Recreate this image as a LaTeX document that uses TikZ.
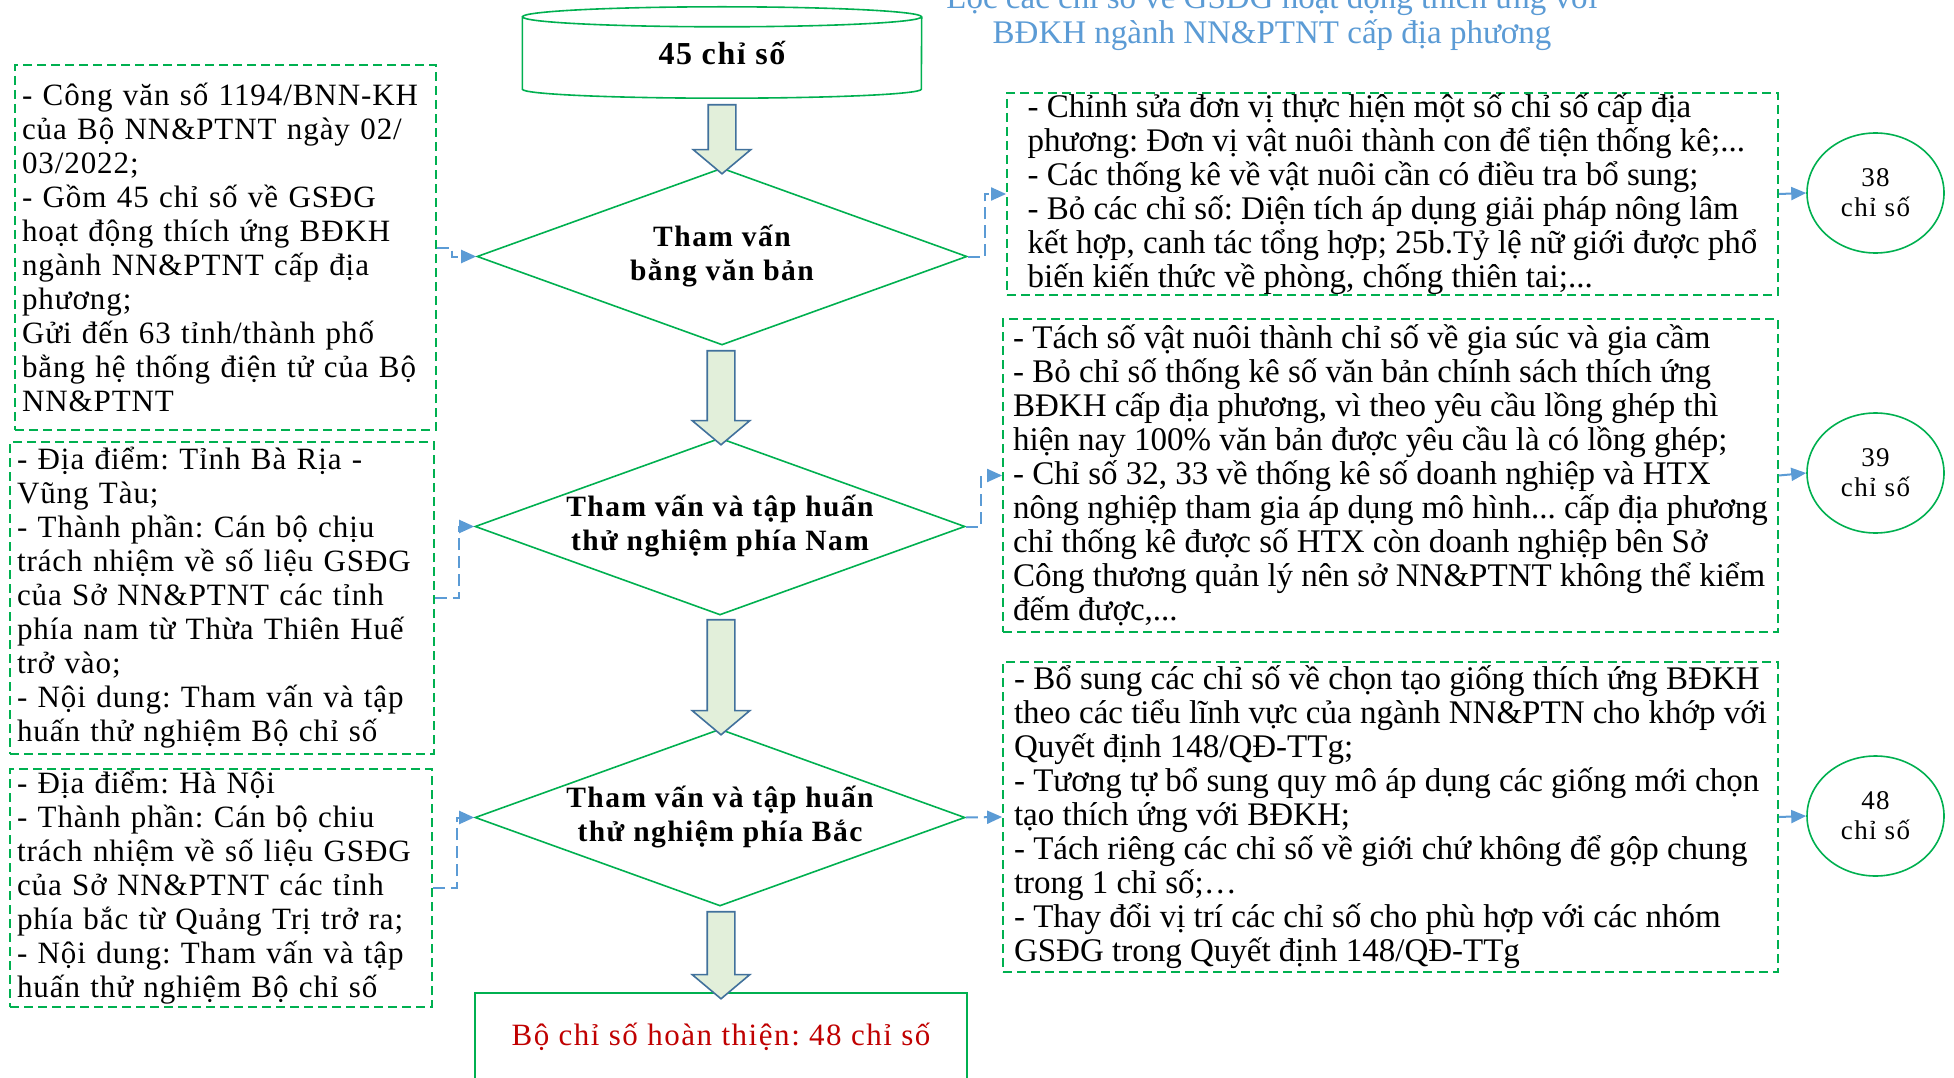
\documentclass[tikz,border=0pt]{standalone}
\usepackage{fontspec}
\setmainfont{Liberation Serif}
\newfontfamily\widefont[LetterSpace=3]{Liberation Serif}
\newfontfamily\headfont[LetterSpace=5]{Liberation Serif}
\newfontfamily\spacedfont[LetterSpace=5]{Liberation Serif}
\frenchspacing
\usetikzlibrary{shapes.geometric,shapes.arrows,arrows.meta}
\definecolor{boxgreen}{RGB}{0,176,80}
\definecolor{linkblue}{RGB}{91,155,213}
\definecolor{arrowfill}{RGB}{226,239,218}
\definecolor{arrowline}{RGB}{65,113,156}
\definecolor{donered}{RGB}{192,0,0}
\begin{document}
\begin{tikzpicture}[x=1pt,y=-1pt,
  leftbox/.style={draw=boxgreen, line width=1.8pt, dash pattern=on 9pt off 5pt, align=left, inner xsep=7pt, inner ysep=0pt, font=\widefont\fontsize{31}{34}\selectfont\frenchspacing},
  rightbox/.style={draw=boxgreen, line width=1.8pt, dash pattern=on 9pt off 5pt, align=left, inner xsep=8pt, inner ysep=0pt, font=\fontsize{33}{34}\selectfont\frenchspacing},
  decision/.style={diamond, draw=boxgreen, line width=1.6pt, minimum width=490pt, minimum height=177pt, inner sep=0pt},
  decisiontext/.style={align=center, font=\headfont\bfseries\fontsize{29.5}{34}\selectfont},
  result/.style={ellipse, draw=boxgreen, line width=1.6pt, minimum width=137pt, minimum height=120pt, inner sep=0pt, align=center, font=\spacedfont\fontsize{27}{30}\selectfont},
  flowarrow/.style={single arrow, draw=arrowline, fill=arrowfill, line width=1.6pt, inner sep=13pt, single arrow head extend=15pt, single arrow tip angle=100, shape border rotate=270},
  link/.style={linkblue, line width=2pt, dash pattern=on 12pt off 6pt, -{Triangle[length=15pt,width=13pt]}},
  solidlink/.style={linkblue, line width=2pt, -{Triangle[length=15pt,width=13pt]}}]
\useasboundingbox (0,0) rectangle (1954,1078);
\fill[white] (0,0) rectangle (1954,1078);

\node[align=center, text=linkblue, font=\fontsize{33}{35}\selectfont] (title) at (1272,17.5) {Lọc các chỉ số về GSĐG hoạt động thích ứng với\\BĐKH ngành NN\&PTNT cấp địa phương};

\node[minimum width=399pt, minimum height=72pt, inner sep=0pt, font=\headfont\bfseries\fontsize{32}{34}\selectfont] (n0) at (722,53) {45 chỉ số};
\draw[boxgreen, line width=1.6pt] (n0.north west) -- (n0.south west) arc[start angle=180, end angle=360, x radius=199.5pt, y radius=9pt] -- (n0.north east)
  (n0.north) ellipse[x radius=199.5pt, y radius=10pt];

\node[decision] (d1) at (722,256.5) {};
\node[decisiontext] (t1) at (d1) {Tham vấn\\bằng văn bản};
\node[decision] (d2) at (720,526.5) {};
\node[decisiontext] (t2) at (d2) {Tham vấn và tập huấn\\thử nghiệm phía Nam};
\node[decision] (d3) at (720,817.5) {};
\node[decisiontext] (t3) at (d3) {Tham vấn và tập huấn\\thử nghiệm phía Bắc};
\node[draw=boxgreen, line width=1.6pt, minimum width=492pt, minimum height=88pt, text=donered, font=\spacedfont\fontsize{31}{34}\selectfont] (final) at (721,1037) {Bộ chỉ số hoàn thiện: 48 chỉ số};

\node[flowarrow, minimum height=69pt] (a1) at (722,133.5) {};
\node[flowarrow, minimum height=94pt] (a2) at (721,392) {};
\node[flowarrow, minimum height=115pt] (a3) at (721,671.5) {};
\node[flowarrow, minimum height=87pt] (a4) at (721,949.5) {};

\node[leftbox, text width=407pt, minimum height=365pt] (l1) at (225.5,247.5) {- Công văn số 1194/BNN-KH\\
của Bộ NN\&PTNT ngày 02/\\
03/2022;\\
- Gồm 45 chỉ số về GSĐG\\
hoạt động thích ứng BĐKH\\
ngành NN\&PTNT cấp địa\\
phương;\\
Gửi đến 63 tỉnh/thành phố\\
bằng hệ thống điện tử của Bộ\\
NN\&PTNT};
\node[leftbox, text width=410pt, minimum height=312pt] (l2) at (222,598) {- Địa điểm: Tỉnh Bà Rịa -\\
Vũng Tàu;\\
- Thành phần: Cán bộ chịu\\
trách nhiệm về số liệu GSĐG\\
của Sở NN\&PTNT các tỉnh\\
phía nam từ Thừa Thiên Huế\\
trở vào;\\
- Nội dung: Tham vấn và tập\\
huấn thử nghiệm Bộ chỉ số};
\node[leftbox, text width=408pt, minimum height=238pt] (l3) at (221,888) {- Địa điểm: Hà Nội\\
- Thành phần: Cán bộ chiu\\
trách nhiệm về số liệu GSĐG\\
của Sở NN\&PTNT các tỉnh\\
phía bắc từ Quảng Trị trở ra;\\
- Nội dung: Tham vấn và tập\\
huấn thử nghiệm Bộ chỉ số};

\node[rightbox, minimum width=771pt, minimum height=202pt] (r1) at (1392.5,194) {- Chỉnh sửa đơn vị thực hiện một số chỉ số cấp địa\\
phương: Đơn vị vật nuôi thành con để tiện thống kê;...\\
- Các thống kê về vật nuôi cần có điều tra bổ sung;\\
- Bỏ các chỉ số: Diện tích áp dụng giải pháp nông lâm\\
kết hợp, canh tác tổng hợp; 25b.Tỷ lệ nữ giới được phổ\\
biến kiến thức về phòng, chống thiên tai;...};
\node[rightbox, minimum width=775pt, minimum height=313pt] (r2) at (1390.5,475.5) {- Tách số vật nuôi thành chỉ số về gia súc và gia cầm\\
- Bỏ chỉ số thống kê số văn bản chính sách thích ứng\\
BĐKH cấp địa phương, vì theo yêu cầu lồng ghép thì\\
hiện nay 100\% văn bản được yêu cầu là có lồng ghép;\\
- Chỉ số 32, 33 về thống kê số doanh nghiệp và HTX\\
nông nghiệp tham gia áp dụng mô hình... cấp địa phương\\
chỉ thống kê được số HTX còn doanh nghiệp bên Sở\\
Công thương quản lý nên sở NN\&PTNT không thể kiểm\\
đếm được,...};
\node[rightbox, minimum width=775pt, minimum height=310pt] (r3) at (1390.5,817) {- Bổ sung các chỉ số về chọn tạo giống thích ứng BĐKH\\
theo các tiểu lĩnh vực của ngành NN\&PTN cho khớp với\\
Quyết định 148/QĐ-TTg;\\
- Tương tự bổ sung quy mô áp dụng các giống mới chọn\\
tạo thích ứng với BĐKH;\\
- Tách riêng các chỉ số về giới chứ không để gộp chung\\
trong 1 chỉ số;…\\
- Thay đổi vị trí các chỉ số cho phù hợp với các nhóm\\
GSĐG trong Quyết định 148/QĐ-TTg};

\node[result] (c1) at (1875.5,193) {38\\chỉ số};
\node[result] (c2) at (1875.5,473) {39\\chỉ số};
\node[result] (c3) at (1875.5,816) {48\\chỉ số};

\draw[link] (l1.east) -- ++(15,0) |- (d1.west);
\draw[link] (l2.east) -- ++(24,0) |- (d2.west);
\draw[link] (l3.east) -- ++(24,0) |- (d3.west);
\draw[link] (d1.east) -- ++(17,0) |- (r1.west);
\draw[link] (d2.east) -- ++(15,0) |- (r2.west);
\draw[link] (d3.east) -- (r3.west);
\draw[solidlink] (r1.east) -- (c1.west);
\draw[solidlink] (r2.east) -- (c2.west);
\draw[solidlink] (r3.east) -- (c3.west);

\end{tikzpicture}
\end{document}
